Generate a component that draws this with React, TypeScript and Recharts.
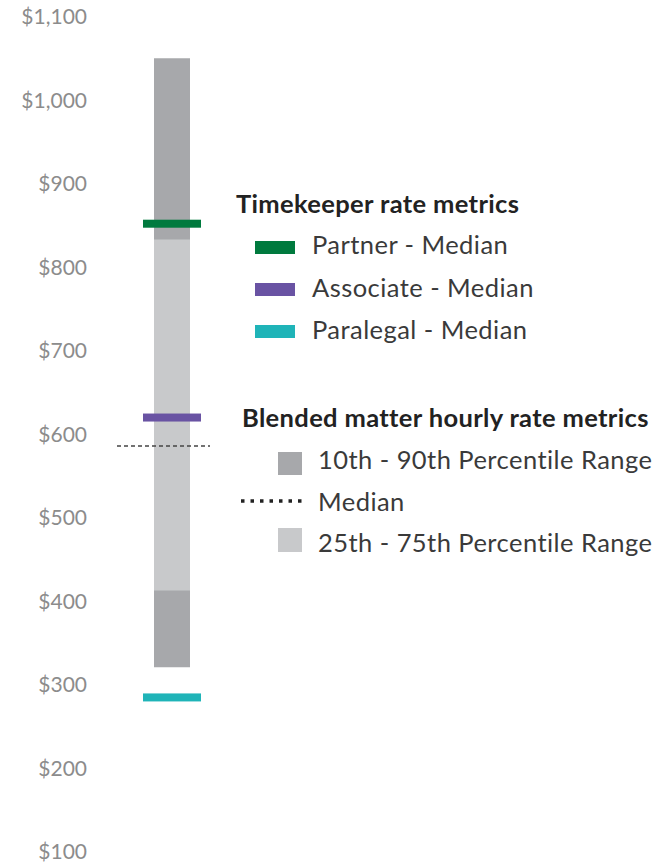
import { Bar, ComposedChart, Scatter, XAxis, YAxis } from "recharts";

const categories = ["Blended matter"];
const p10 = [321];
const p90 = [1050];
const p25 = [413];
const p75 = [833];
const blendedMedian = [586];
const partnerMedian = [852];
const associateMedian = [620];
const paralegalMedian = [285];
const yTicks = [100, 200, 300, 400, 500, 600, 700, 800, 900, 1000, 1100];

const DARK = "#a7a8ab";
const LIGHT = "#c8c9cb";
const GREEN = "#007a3e";
const PURPLE = "#6953a3";
const TEAL = "#1fb4b8";
const FONT = "Lato, 'Open Sans', sans-serif";

const data = categories.map((name, i) => ({
  name,
  outer: [p10[i], p90[i]],
  inner: [p25[i], p75[i]],
  median: blendedMedian[i],
  partner: partnerMedian[i],
  associate: associateMedian[i],
  paralegal: paralegalMedian[i],
}));

const fmt = (v: number) => `$${v.toLocaleString("en-US")}`;

// timekeeper median marker: a short thick bar across the column
function marker(color: string) {
  return (props: any) => (
    <rect x={props.cx - 29} y={props.cy - 4} width={58} height={8} fill={color} />
  );
}

function dashLine(props: any) {
  return (
    <line
      x1={props.cx - 55}
      x2={props.cx + 38}
      y1={props.cy}
      y2={props.cy}
      stroke="#444"
      strokeWidth={1.5}
      strokeDasharray="4 3"
    />
  );
}

export default function App() {
  const rowText = {
    position: "absolute" as const,
    fontSize: 25.5,
    letterSpacing: 0.45,
    color: "#3a3a3a",
    whiteSpace: "nowrap" as const,
    lineHeight: "30px",
  };
  const head = { ...rowText, fontWeight: 700, color: "#222", letterSpacing: 0.35 };
  const swatch = (left: number, top: number, w: number, h: number, bg: string) => (
    <div style={{ position: "absolute", left, top, width: w, height: h, background: bg }} />
  );
  return (
    <div style={{ position: "absolute", left: 0, top: 0, width: 669, height: 862, fontFamily: FONT, background: "#fff" }}>
      <ComposedChart width={669} height={862} data={data} margin={{ top: 16.5, right: 420, bottom: 10, left: 0 }}>
        <XAxis xAxisId="a" dataKey="name" type="category" hide />
        <XAxis xAxisId="b" dataKey="name" type="category" hide />
        <YAxis
          domain={[100, 1100]}
          ticks={yTicks}
          tickFormatter={fmt}
          width={95}
          axisLine={false}
          tickLine={false}
          tick={{ fill: "#8c8c8c", fontSize: 21, fontFamily: FONT }}
          interval={0}
        />
        <Bar xAxisId="a" dataKey="outer" fill={DARK} barSize={36} isAnimationActive={false} />
        <Bar xAxisId="b" dataKey="inner" fill={LIGHT} barSize={36} isAnimationActive={false} />
        <Scatter xAxisId="a" dataKey="median" shape={dashLine} isAnimationActive={false} />
        <Scatter xAxisId="a" dataKey="partner" shape={marker(GREEN)} isAnimationActive={false} />
        <Scatter xAxisId="a" dataKey="associate" shape={marker(PURPLE)} isAnimationActive={false} />
        <Scatter xAxisId="a" dataKey="paralegal" shape={marker(TEAL)} isAnimationActive={false} />
      </ComposedChart>

      <div style={{ ...head, left: 236, top: 188 }}>Timekeeper rate metrics</div>
      {swatch(255, 241, 40, 13, GREEN)}
      <div style={{ ...rowText, left: 312, top: 229 }}>Partner - Median</div>
      {swatch(255, 283, 40, 13, PURPLE)}
      <div style={{ ...rowText, left: 312, top: 272 }}>Associate - Median</div>
      {swatch(255, 325, 40, 13, TEAL)}
      <div style={{ ...rowText, left: 312, top: 314 }}>Paralegal - Median</div>

      <div style={{ ...head, left: 242, top: 402 }}>Blended matter hourly rate metrics</div>
      {swatch(278, 452, 24, 23, DARK)}
      <div style={{ ...rowText, left: 318, top: 444 }}>10th - 90th Percentile Range</div>
      <svg style={{ position: "absolute", left: 240, top: 497 }} width={66} height={8}>
        <line x1={1} x2={66} y1={4} y2={4} stroke="#222" strokeWidth={3.5} strokeDasharray="3.5 6" />
      </svg>
      <div style={{ ...rowText, left: 318, top: 486 }}>Median</div>
      {swatch(278, 528, 24, 24, LIGHT)}
      <div style={{ ...rowText, left: 318, top: 527 }}>25th - 75th Percentile Range</div>
    </div>
  );
}
